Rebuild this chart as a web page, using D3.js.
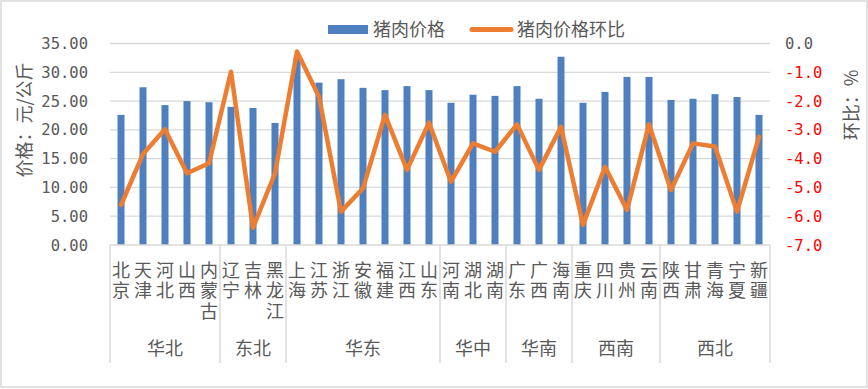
<!DOCTYPE html>
<html><head><meta charset="utf-8">
<script src="https://cdn.jsdelivr.net/npm/d3@7"></script>
<style>body{margin:0;background:#fff}svg{display:block}</style>
</head><body><svg id="c" width="868" height="389"></svg>
<script>
const provinces = ["北京","天津","河北","山西","内蒙古","辽宁","吉林","黑龙江","上海","江苏","浙江","安徽","福建","江西","山东","河南","湖北","湖南","广东","广西","海南","重庆","四川","贵州","云南","陕西","甘肃","青海","宁夏","新疆"];
const regions = [["华北",5],["东北",3],["华东",7],["华中",3],["华南",3],["西南",4],["西北",5]];
const price = [22.6,27.4,24.3,25.0,24.8,24.0,23.8,21.2,32.6,28.2,28.8,27.3,26.9,27.6,26.9,24.7,26.1,25.9,27.6,25.4,32.7,24.7,26.6,29.2,29.2,25.2,25.4,26.2,25.7,22.6];
const mom = [-5.61,-3.84,-2.98,-4.51,-4.16,-0.98,-6.40,-4.51,-0.28,-1.85,-5.84,-5.03,-2.48,-4.39,-2.75,-4.80,-3.47,-3.76,-2.81,-4.39,-2.89,-6.30,-4.28,-5.78,-2.81,-5.09,-3.47,-3.58,-5.84,-3.24];
const leftTicks = [0,5,10,15,20,25,30,35];
const rightTicks = [0,-1,-2,-3,-4,-5,-6,-7];
const seriesNames = ["猪肉价格","猪肉价格环比"];

const svg = d3.select("#c");
const cjk = "'Noto Sans CJK SC', sans-serif";
const num = "'DejaVu Sans Mono', monospace";
const grey = "#595959", gridC = "#d9d9d9";
const L = 110, R = 770, T = 43.5, B = 245;

svg.append("rect").attr("x",1).attr("y",1).attr("width",866).attr("height",386)
  .attr("fill","#fff").attr("stroke",gridC).attr("stroke-width",1.5);

const x = d3.scaleBand().domain(provinces).range([L,R]);
const yL = d3.scaleLinear().domain([0,35]).range([B,T]);
const yR = d3.scaleLinear().domain([-7,0]).range([B,T]);

// grid
svg.append("g").selectAll("line").data(leftTicks.slice(1)).join("line")
  .attr("x1",L).attr("x2",R).attr("y1",d=>yL(d)).attr("y2",d=>yL(d))
  .attr("stroke",gridC).attr("stroke-width",1.3);

// left axis labels
svg.append("g").selectAll("text").data(leftTicks).join("text")
  .attr("x",88).attr("y",d=>yL(d)).attr("dy","0.36em").attr("text-anchor","end")
  .attr("font-family",num).attr("font-size",15.5).attr("fill",grey)
  .text(d=>d3.format(".2f")(d));

// right axis labels
svg.append("g").selectAll("text").data(rightTicks).join("text")
  .attr("x",785).attr("y",d=>yR(d)).attr("dy","0.36em").attr("text-anchor","start")
  .attr("font-family",num).attr("font-size",15.5).attr("fill",d=>d<0?"#ff0000":grey)
  .text(d=>d3.format(".1f")(d).replace("−","-"));

// bars
const bw = 7;
svg.append("g").selectAll("rect").data(provinces).join("rect")
  .attr("x",(d)=>x(d)+x.bandwidth()/2-bw/2).attr("width",bw)
  .attr("y",(d,i)=>yL(price[i])).attr("height",(d,i)=>B-yL(price[i]))
  .attr("fill","#4e7fbe");

// line
const line = d3.line().x((d,i)=>x(provinces[i])+x.bandwidth()/2).y(d=>yR(d));
svg.append("path").datum(mom).attr("d",line).attr("fill","none")
  .attr("stroke","#ed7d31").attr("stroke-width",4.5).attr("stroke-linejoin","round").attr("stroke-linecap","round");

// x axis
svg.append("line").attr("x1",L).attr("x2",R).attr("y1",B).attr("y2",B).attr("stroke",gridC).attr("stroke-width",1.5);
let idx = 0;
const seps = [0];
regions.forEach(([n,c])=>{ idx+=c; seps.push(idx); });
svg.append("g").selectAll("line").data(seps).join("line")
  .attr("x1",d=>L+d*x.step()).attr("x2",d=>L+d*x.step()).attr("y1",B).attr("y2",363)
  .attr("stroke",gridC).attr("stroke-width",1.5);

// category labels (vertical writing)
const cat = svg.append("g").attr("font-family",cjk).attr("font-size",18).attr("fill",grey);
cat.selectAll("text.cat").data(provinces).join("text").attr("class","cat")
  .attr("x",d=>x(d)+x.bandwidth()/2).attr("y",261)
  .style("writing-mode","vertical-rl").style("letter-spacing","2.5px")
  .attr("text-anchor","start").text(d=>d);
// region labels
let start = 0;
regions.forEach(([n,c])=>{
  const cx = L+(start+c/2)*x.step();
  cat.append("text").attr("x",cx).attr("y",349).attr("dy","0.36em").attr("text-anchor","middle").text(n);
  start += c;
});

// axis titles
svg.append("text").attr("transform","translate(25,120) rotate(-90)").attr("text-anchor","middle")
  .attr("dy","0.36em").attr("font-family",cjk).attr("font-size",18).attr("fill",grey).text("价格：元/公斤");
svg.append("text").attr("transform","translate(852,105) rotate(-90)").attr("text-anchor","middle")
  .attr("dy","0.36em").attr("font-family",cjk).attr("font-size",18).attr("fill",grey).text("环比：%");

// legend
const lg = svg.append("g").attr("font-family",cjk).attr("font-size",18).attr("fill",grey);
lg.append("rect").attr("x",328).attr("y",25).attr("width",40).attr("height",9).attr("fill","#4e7fbe");
lg.append("text").attr("x",373).attr("y",30).attr("dy","0.36em").text(seriesNames[0]);
lg.append("line").attr("x1",472).attr("x2",511).attr("y1",29.5).attr("y2",29.5)
  .attr("stroke","#ed7d31").attr("stroke-width",5).attr("stroke-linecap","round");
lg.append("text").attr("x",517).attr("y",30).attr("dy","0.36em").text(seriesNames[1]);
</script></body></html>
